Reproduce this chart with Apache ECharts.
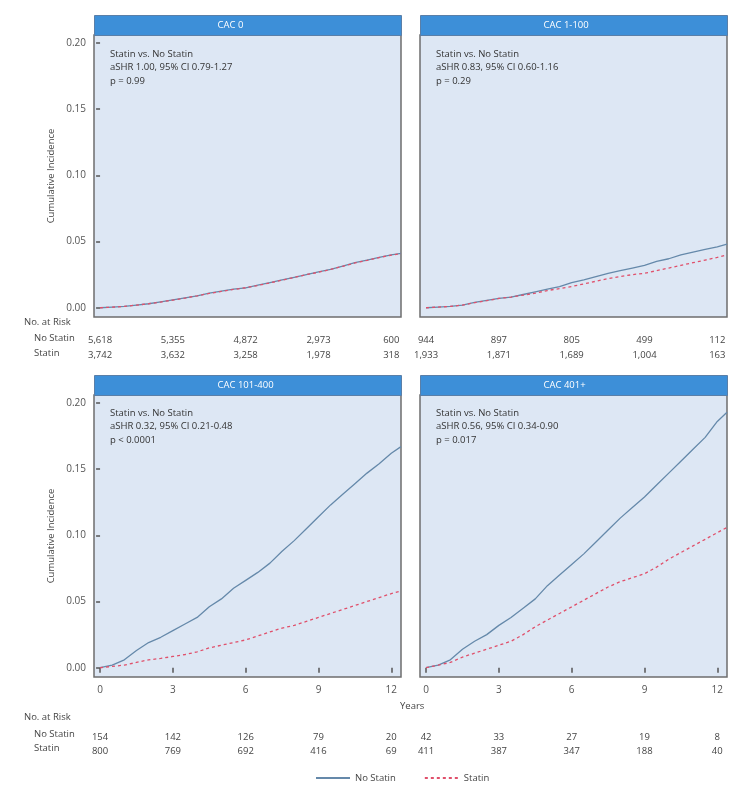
<!DOCTYPE html>
<html><head><meta charset="utf-8">
<script src="https://cdn.jsdelivr.net/npm/echarts@6/dist/echarts.min.js"></script>
<style>html,body{margin:0;padding:0;background:#fff}#c{width:744px;height:794px}</style>
</head><body><div id="c"></div>
<script>
// ---- data ----
const times = [0,0.5,1,1.5,2,2.5,3,3.5,4,4.5,5,5.5,6,6.5,7,7.5,8,8.5,9,9.5,10,10.5,11,11.5,12,12.4];
const panelTitles = ["CAC 0","CAC 1-100","CAC 101-400","CAC 401+"];
const statsText = [
  ["Statin vs. No Statin","aSHR 1.00, 95% CI 0.79-1.27","p = 0.99"],
  ["Statin vs. No Statin","aSHR 0.83, 95% CI 0.60-1.16","p = 0.29"],
  ["Statin vs. No Statin","aSHR 0.32, 95% CI 0.21-0.48","p < 0.0001"],
  ["Statin vs. No Statin","aSHR 0.56, 95% CI 0.34-0.90","p = 0.017"]
];
const noStatin0 = [0,0.0005,0.001,0.002,0.003,0.0045,0.006,0.0075,0.009,0.011,0.0125,0.014,0.015,0.017,0.019,0.021,0.023,0.025,0.027,0.029,0.0315,0.034,0.036,0.038,0.040,0.041];
const statin0   = [0,0.0004,0.001,0.002,0.003,0.0043,0.0058,0.0073,0.009,0.0108,0.0123,0.0138,0.0151,0.0168,0.0188,0.0208,0.0229,0.025,0.0268,0.0289,0.0313,0.0338,0.0358,0.0379,0.0398,0.0408];
const noStatin1 = [0,0.0005,0.001,0.002,0.004,0.0055,0.007,0.008,0.010,0.012,0.014,0.016,0.019,0.021,0.0235,0.026,0.028,0.030,0.032,0.035,0.037,0.040,0.042,0.044,0.046,0.048];
const statin1   = [0,0.0005,0.001,0.002,0.0038,0.0053,0.007,0.008,0.0095,0.011,0.013,0.0145,0.016,0.018,0.020,0.022,0.0235,0.025,0.026,0.028,0.030,0.032,0.034,0.036,0.038,0.040];
const noStatin2 = [0,0.002,0.006,0.013,0.019,0.023,0.028,0.033,0.038,0.046,0.052,0.060,0.066,0.072,0.079,0.088,0.096,0.105,0.114,0.123,0.131,0.139,0.147,0.154,0.162,0.167];
const statin2   = [0,0.001,0.002,0.004,0.006,0.007,0.0085,0.010,0.012,0.015,0.017,0.019,0.021,0.024,0.027,0.030,0.032,0.035,0.038,0.041,0.044,0.047,0.050,0.053,0.056,0.058];
const noStatin3 = [0,0.002,0.006,0.014,0.020,0.025,0.032,0.038,0.045,0.052,0.062,0.070,0.078,0.086,0.095,0.104,0.113,0.121,0.129,0.138,0.147,0.156,0.165,0.174,0.186,0.193];
const statin3   = [0,0.002,0.004,0.008,0.011,0.014,0.017,0.020,0.025,0.031,0.036,0.041,0.046,0.051,0.056,0.061,0.065,0.068,0.071,0.076,0.082,0.087,0.092,0.097,0.102,0.106];
const xTicks = [0,3,6,9,12];
const yTicks = [0,0.05,0.10,0.15,0.20];
const riskNoStatin = [["5,618","5,355","4,872","2,973","600"],["944","897","805","499","112"],["154","142","126","79","20"],["42","33","27","19","8"]];
const riskStatin   = [["3,742","3,632","3,258","1,978","318"],["1,933","1,871","1,689","1,004","163"],["800","769","692","416","69"],["411","387","347","188","40"]];

// ---- layout ----
const FONT = "Open Sans";
const grids = [
  {left:94, top:35, width:307, height:282},
  {left:420, top:35, width:307, height:282},
  {left:94, top:395, width:307, height:282},
  {left:420, top:395, width:307, height:282}
];
const noStatinSeries = [noStatin0,noStatin1,noStatin2,noStatin3];
const statinSeries = [statin0,statin1,statin2,statin3];
const XMIN=-0.25, XMAX=12.4, YMIN=-0.007, YMAX=0.206;

const xAxis=[], yAxis=[], series=[], graphic=[];
grids.forEach((g,i)=>{
  const bottomRow = i>=2;
  xAxis.push({gridIndex:i,type:'value',min:XMIN,max:XMAX,
    axisLine:{show:false},splitLine:{show:false},
    axisTick:{show:bottomRow,inside:false,length:5,lineStyle:{color:'#555',width:1.5},customValues:xTicks},
    axisLabel:{show:bottomRow,margin:8,color:'#555',fontSize:10,fontFamily:FONT,customValues:xTicks}});
  const off1 = bottomRow ? 47 : 10;
  const off2 = bottomRow ? 61 : 25;
  xAxis.push({gridIndex:i,type:'value',min:XMIN,max:XMAX,position:'bottom',offset:off1,
    axisLine:{show:false},splitLine:{show:false},axisTick:{show:false},
    axisLabel:{margin:8,color:'#444',fontSize:9.5,fontFamily:FONT,customValues:xTicks,
      formatter:(v)=>riskNoStatin[i][xTicks.indexOf(Math.round(v))]}});
  xAxis.push({gridIndex:i,type:'value',min:XMIN,max:XMAX,position:'bottom',offset:off2,
    axisLine:{show:false},splitLine:{show:false},axisTick:{show:false},
    axisLabel:{margin:8,color:'#444',fontSize:9.5,fontFamily:FONT,customValues:xTicks,
      formatter:(v)=>riskStatin[i][xTicks.indexOf(Math.round(v))]}});
  const leftCol = (i%2===0);
  yAxis.push({gridIndex:i,type:'value',min:YMIN,max:YMAX,
    name: leftCol ? 'Cumulative Incidence' : '',nameLocation:'middle',nameGap:38,
    nameTextStyle:{color:'#444',fontSize:9.5,fontFamily:FONT},
    axisLine:{show:false},splitLine:{show:false},
    axisTick:{show:leftCol,length:4,lineStyle:{color:'#555',width:1.5},customValues:yTicks},
    axisLabel:{show:leftCol,margin:8,color:'#555',fontSize:10,fontFamily:FONT,customValues:yTicks,
      formatter:(v)=>v.toFixed(2)}});
  const xi = i*3;
  series.push({name:'No Statin',type:'line',xAxisIndex:xi,yAxisIndex:i,symbol:'none',
    lineStyle:{color:'#6589aa',width:1.3},itemStyle:{color:'#6589aa'},
    data:times.map((t,k)=>[t,noStatinSeries[i][k]]),z:3});
  series.push({name:'Statin',type:'line',xAxisIndex:xi,yAxisIndex:i,symbol:'none',
    lineStyle:{color:'#e0506b',width:1.3,type:[3,3]},itemStyle:{color:'#e0506b'},
    data:times.map((t,k)=>[t,statinSeries[i][k]]),z:4});
  // header bar
  graphic.push({type:'rect',left:g.left,top:g.top-20,shape:{width:g.width,height:20},
    style:{fill:'#3d8fd8',stroke:'#5a7fa8',lineWidth:1}});
  graphic.push({type:'text',left:g.left+g.width/2-30,top:g.top-15,
    style:{text:panelTitles[i],fill:'#ffffff',font:'9.5px "Open Sans"',width:60,align:'center'}});
  // stats text
  statsText[i].forEach((s,k)=>{
    graphic.push({type:'text',left:g.left+16,top:g.top+(bottomRow?13:14)+k*13.5,
      style:{text:s,fill:'#333',font:'9.5px "Open Sans"'}});
  });
});

// table labels
[[323,339,354],[718,735,749]].forEach(r=>{
  graphic.push({type:'text',left:24,top:r[0]-6,style:{text:'No. at Risk',fill:'#444',font:'9.5px "Open Sans"'}});
  graphic.push({type:'text',left:34,top:r[1]-6,style:{text:'No Statin',fill:'#444',font:'9.5px "Open Sans"'}});
  graphic.push({type:'text',left:34,top:r[2]-6,style:{text:'Statin',fill:'#444',font:'9.5px "Open Sans"'}});
});
graphic.push({type:'text',left:400,top:701,style:{text:'Years',fill:'#444',font:'9.5px "Open Sans"'}});

const chart = echarts.init(document.getElementById('c'),null,{renderer:'canvas'});
chart.setOption({
  animation:false,
  backgroundColor:'#ffffff',
  grid: grids.map(g=>Object.assign({show:true,backgroundColor:'#dde7f4',borderColor:'#6e6e6e',borderWidth:1.5},g)),
  xAxis, yAxis, series, graphic,
  legend:{data:['No Statin','Statin'],left:310,top:768,itemWidth:34,itemHeight:10,itemGap:28,
    itemStyle:{opacity:0},
    textStyle:{color:'#444',fontSize:9.5,fontFamily:FONT}}
});
</script></body></html>
